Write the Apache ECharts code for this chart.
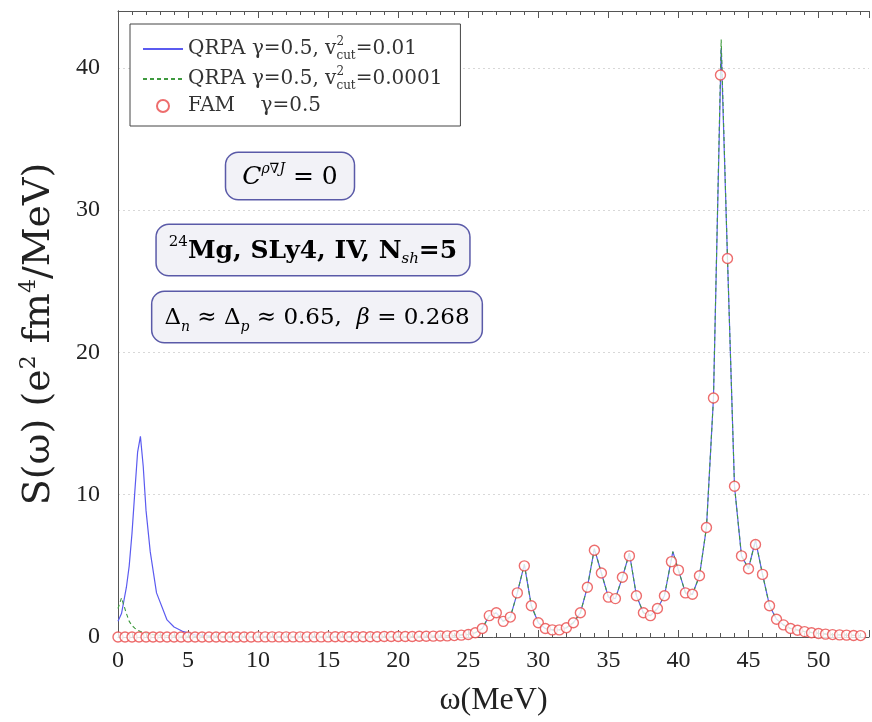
<!DOCTYPE html>
<html>
<head>
<meta charset="utf-8">
<script src="https://cdn.jsdelivr.net/npm/echarts@6/dist/echarts.min.js"></script>
<style>
  html, body { margin: 0; padding: 0; background: #fff; }
  #chart { width: 872px; height: 722px; }
</style>
</head>
<body>
<div id="chart"></div>
<script>
// FAM points, every 0.5 MeV
const famOmega = [
  0, 0.5, 1, 1.5, 2, 2.5, 3, 3.5, 4, 4.5, 5, 5.5, 6, 6.5, 7, 7.5, 8, 8.5, 9, 9.5,
  10, 10.5, 11, 11.5, 12, 12.5, 13, 13.5, 14, 14.5, 15, 15.5, 16, 16.5, 17, 17.5, 18, 18.5, 19, 19.5,
  20, 20.5, 21, 21.5, 22, 22.5, 23, 23.5, 24, 24.5, 25, 25.5, 26, 26.5, 27, 27.5, 28, 28.5, 29, 29.5,
  30, 30.5, 31, 31.5, 32, 32.5, 33, 33.5, 34, 34.5, 35, 35.5, 36, 36.5, 37, 37.5, 38, 38.5, 39, 39.5,
  40, 40.5, 41, 41.5, 42, 42.5, 43, 43.5, 44, 44.5, 45, 45.5, 46, 46.5, 47, 47.5, 48, 48.5, 49, 49.5,
  50, 50.5, 51, 51.5, 52, 52.5, 53
]
const famS = [
  0, 0, 0, 0, 0, 0, 0, 0, 0, 0, 0, 0, 0, 0, 0, 0, 0, 0, 0, 0,
  0.01, 0.01, 0.01, 0.01, 0.01, 0.01, 0.01, 0.01, 0.01, 0.01, 0.01, 0.02, 0.02, 0.02, 0.02, 0.02, 0.02, 0.02, 0.03, 0.03,
  0.03, 0.03, 0.04, 0.05, 0.05, 0.06, 0.07, 0.08, 0.1, 0.13, 0.18, 0.3, 0.6, 1.5, 1.7, 1.1, 1.4, 3.1, 5.0, 2.2,
  1.0, 0.6, 0.5, 0.5, 0.65, 1.0, 1.7, 3.5, 6.1, 4.5, 2.8, 2.7, 4.2, 5.7, 2.9, 1.7, 1.5, 2.0, 2.9, 5.3,
  4.7, 3.1, 3.0, 4.3, 7.7, 16.8, 39.5, 26.6, 10.6, 5.7, 4.8, 6.5, 4.4, 2.2, 1.25, 0.85, 0.6, 0.47, 0.38, 0.3,
  0.25, 0.2, 0.17, 0.15, 0.13, 0.11, 0.1
]

// QRPA curves (v2cut = 0.01 and v2cut = 0.0001)
const qrpaOmega = [
  0, 0.25, 0.6, 0.8, 1.0, 1.2, 1.4, 1.6, 1.8, 2.0, 2.3, 2.75, 3.5, 4.0, 4.6, 5.5, 7, 10, 15, 20, 22, 23, 24,
  25, 25.5, 26, 26.5, 27, 27.5, 28, 28.5, 29, 29.5, 30, 30.5, 31, 31.5, 32, 32.5, 33, 33.5, 34, 34.5,
  35, 35.5, 36, 36.5, 37, 37.5, 38, 38.5, 39, 39.6, 40, 40.5, 41, 41.5, 42, 42.5, 43.05, 43.5, 44, 44.5,
  45, 45.5, 46, 46.5, 47, 47.5, 48, 49, 50, 51, 52, 53
]
const qrpaS1 = [
  1.1, 1.65, 3.5, 5.0, 7.3, 10.2, 13.0, 14.1, 12.0, 8.9, 6.0, 3.1, 1.2, 0.7, 0.4, 0.15, 0.05, 0.02, 0.02, 0.03, 0.05, 0.07, 0.1,
  0.18, 0.3, 0.6, 1.5, 1.7, 1.1, 1.4, 3.1, 5.1, 2.2, 1.0, 0.6, 0.5, 0.5, 0.65, 1.0, 1.7, 3.5, 6.2, 4.5,
  2.8, 2.7, 4.2, 5.9, 2.9, 1.7, 1.5, 2.0, 2.9, 6.0, 4.7, 3.1, 3.0, 4.3, 7.7, 16.8, 41.4, 26.6, 10.6, 5.7,
  4.8, 6.8, 4.4, 2.2, 1.25, 0.85, 0.6, 0.38, 0.25, 0.17, 0.13, 0.1
]
const qrpaS2 = [
  2.0, 2.75, 1.65, 1.1, 0.8, 0.62, 0.48, 0.38, 0.32, 0.27, 0.2, 0.14, 0.09, 0.07, 0.05, 0.04, 0.03, 0.02, 0.02, 0.03, 0.05, 0.07, 0.1,
  0.18, 0.3, 0.6, 1.5, 1.7, 1.1, 1.4, 3.1, 5.1, 2.2, 1.0, 0.6, 0.5, 0.5, 0.65, 1.0, 1.7, 3.5, 6.2, 4.5,
  2.8, 2.7, 4.2, 5.9, 2.9, 1.7, 1.5, 2.0, 2.9, 6.0, 4.7, 3.1, 3.0, 4.3, 7.7, 16.8, 42.0, 26.6, 10.6, 5.7,
  4.8, 6.8, 4.4, 2.2, 1.25, 0.85, 0.6, 0.38, 0.25, 0.17, 0.13, 0.1
]

const xTicks = [0, 5, 10, 15, 20, 25, 30, 35, 40, 45, 50]
const yTicks = [0, 10, 20, 30, 40]

const serif = '"Liberation Serif", "DejaVu Serif", serif'
const wide = '"DejaVu Serif", "Liberation Serif", serif'
const navy = '#2d2d8f'

const pairs = (xs, ys) => xs.map((x, i) => [x, ys[i]])

const legendText = {
  'QRPA a': '{t|QRPA γ=0.5, v}{sup|2}{sub|cut}{t|=0.01}',
  'QRPA b': '{t|QRPA γ=0.5, v}{sup|2}{sub|cut}{t|=0.0001}',
  'FAM': '{t|FAM    γ=0.5}'
}
const noMarker = { color: 'transparent', borderColor: 'transparent', borderWidth: 0 }

const chart = echarts.init(document.getElementById('chart'))

const xCommon = {
  type: 'value',
  min: 0,
  max: 53.6,
  interval: 5,
  axisLine: { show: true, onZero: false, lineStyle: { color: '#555', width: 1 } },
  axisTick: { show: true, inside: true, length: 7, lineStyle: { color: '#555' } },
  minorTick: { show: true, splitNumber: 5, length: 4, lineStyle: { color: '#555' } },
  splitLine: { show: false }
}

chart.setOption({
  animation: false,
  backgroundColor: '#fff',
  grid: { left: 118, right: 3, top: 11, bottom: 85 },
  legend: {
    orient: 'vertical',
    left: 130,
    top: 24,
    padding: [12, 18, 10, 12],
    itemGap: 4,
    itemWidth: 40,
    itemHeight: 12,
    backgroundColor: '#fff',
    borderColor: '#444',
    borderWidth: 1,
    data: [
      { name: 'QRPA a', itemStyle: noMarker },
      { name: 'QRPA b', itemStyle: noMarker },
      { name: 'FAM' }
    ],
    formatter: (name) => legendText[name],
    textStyle: {
      rich: {
        t: { fontFamily: wide, fontSize: 20, color: '#333', lineHeight: 26 },
        sup: { fontFamily: wide, fontSize: 12, color: '#333', lineHeight: 13, verticalAlign: 'top', width: 0 },
        sub: { fontFamily: wide, fontSize: 12, color: '#333', lineHeight: 13, verticalAlign: 'bottom' }
      }
    }
  },
  xAxis: [
    Object.assign({}, xCommon, {
      position: 'bottom',
      axisLabel: {
        fontFamily: serif, fontSize: 24, color: '#222', margin: 12,
        showMaxLabel: false,
        formatter: (v) => (xTicks.includes(v) ? String(v) : '')
      },
      name: 'ω(MeV)',
      nameLocation: 'middle',
      nameGap: 48,
      nameTextStyle: { fontFamily: serif, fontSize: 32, color: '#222' }
    }),
    Object.assign({}, xCommon, {
      position: 'top',
      axisLabel: { show: false }
    })
  ],
  yAxis: [
    {
      type: 'value',
      min: 0,
      max: 44,
      interval: 10,
      axisLine: { show: true, lineStyle: { color: '#555' } },
      axisTick: { show: false },
      axisLabel: {
        fontFamily: serif, fontSize: 24, color: '#222', margin: 18,
        showMaxLabel: false,
        formatter: (v) => (yTicks.includes(v) ? String(v) : '')
      },
      splitLine: { show: true, lineStyle: { color: '#d8d8d8', type: [2, 3], width: 1 } },
      name: '{a|S(ω) (e}{s|2}{a| fm}{s|4}{a|/MeV)}',
      nameLocation: 'middle',
      nameGap: 58,
      nameRotate: 90,
      nameTextStyle: {
        padding: [0, 0, 0, -20],
        rich: {
          a: { fontFamily: wide, fontSize: 38, color: '#222', lineHeight: 42 },
          s: { fontFamily: wide, fontSize: 22, color: '#222', lineHeight: 22, verticalAlign: 'top' }
        }
      }
    },
    {
      type: 'value',
      min: 0,
      max: 44,
      interval: 10,
      position: 'right',
      axisLine: { show: true, lineStyle: { color: '#555' } },
      axisTick: { show: false },
      axisLabel: { show: false },
      splitLine: { show: false }
    }
  ],
  series: [
    {
      name: 'QRPA a',
      type: 'line',
      data: pairs(qrpaOmega, qrpaS1),
      symbol: 'none',
      lineStyle: { color: '#5b5bf0', width: 1.2 },
      itemStyle: { color: '#5b5bf0' },
      z: 2
    },
    {
      name: 'QRPA b',
      type: 'line',
      data: pairs(qrpaOmega, qrpaS2),
      symbol: 'none',
      lineStyle: { color: '#3f9a3f', width: 1.1, type: [4, 3] },
      itemStyle: { color: '#3f9a3f' },
      z: 3
    },
    {
      name: 'FAM',
      type: 'scatter',
      data: pairs(famOmega, famS),
      symbol: 'circle',
      symbolSize: 10,
      itemStyle: { color: '#fff', borderColor: '#e84848', borderWidth: 1.4 },
      z: 4
    }
  ],
  graphic: [
    {
      type: 'text',
      x: 290, y: 176,
      style: {
        text: '{i|C}{sup|ρ∇J}{n| = 0}',
        align: 'center', verticalAlign: 'middle',
        backgroundColor: '#f2f2f7', borderColor: '#5a5aa8', borderWidth: 1.5, borderRadius: 12,
        padding: [9, 16, 7, 16],
        rich: {
          i: { fontFamily: wide, fontStyle: 'italic', fontSize: 25, color: navy, lineHeight: 30 },
          sup: { fontFamily: wide, fontStyle: 'italic', fontSize: 14, color: navy, lineHeight: 16, verticalAlign: 'top' },
          n: { fontFamily: wide, fontSize: 25, color: navy, lineHeight: 30 }
        }
      }
    },
    {
      type: 'text',
      x: 313, y: 250,
      style: {
        text: '{s|24}{b|Mg, SLy4, IV, N}{sb|sh}{b|=5}',
        align: 'center', verticalAlign: 'middle',
        backgroundColor: '#f2f2f7', borderColor: '#5a5aa8', borderWidth: 1.5, borderRadius: 12,
        padding: [10, 12, 8, 12],
        rich: {
          b: { fontFamily: wide, fontWeight: 'bold', fontSize: 25, color: navy, lineHeight: 32 },
          s: { fontFamily: wide, fontSize: 15, color: navy, lineHeight: 16, verticalAlign: 'top' },
          sb: { fontFamily: wide, fontStyle: 'italic', fontSize: 15, color: navy, lineHeight: 16, verticalAlign: 'bottom' }
        }
      }
    },
    {
      type: 'text',
      x: 317, y: 317,
      style: {
        text: '{n|Δ}{sb|n}{n| ≈ Δ}{sb|p}{n| ≈ 0.65,  }{i|β}{n| = 0.268}',
        align: 'center', verticalAlign: 'middle',
        backgroundColor: '#f2f2f7', borderColor: '#5a5aa8', borderWidth: 1.5, borderRadius: 12,
        padding: [10, 12, 8, 12],
        rich: {
          n: { fontFamily: wide, fontSize: 23, color: navy, lineHeight: 32 },
          i: { fontFamily: wide, fontStyle: 'italic', fontSize: 23, color: navy, lineHeight: 32 },
          sb: { fontFamily: wide, fontStyle: 'italic', fontSize: 14, color: navy, lineHeight: 16, verticalAlign: 'bottom' }
        }
      }
    }
  ]
})
</script>
</body>
</html>
